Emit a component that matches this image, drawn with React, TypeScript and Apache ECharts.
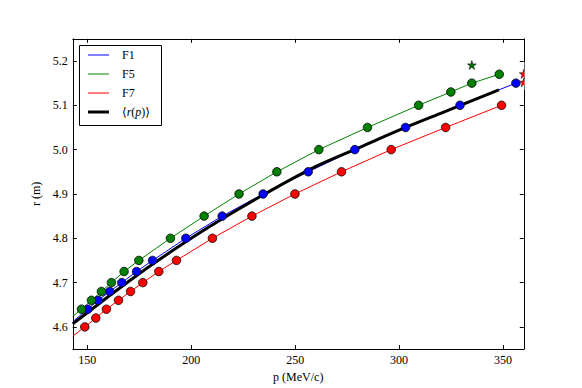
import React, { useEffect, useRef } from "react";
import * as echarts from "echarts";

// F1 (blue)
const F1_P = [150.2, 155.2, 160.8, 166.6, 173.7, 181.4, 197.4, 214.9, 234.6, 256.3, 278.7, 303.1, 329.3, 356.2];
const F1_R = [4.64, 4.66, 4.68, 4.70, 4.725, 4.75, 4.80, 4.85, 4.90, 4.95, 5.00, 5.05, 5.10, 5.15];
const F1_START: [number, number] = [143, 4.612];

// F5 (green)
const F5_P = [147.2, 152.0, 156.8, 161.6, 167.7, 174.8, 190.0, 206.2, 223.0, 241.2, 261.4, 284.8, 309.4, 324.9, 335.0, 348.2];
const F5_R = [4.64, 4.66, 4.68, 4.70, 4.725, 4.75, 4.80, 4.85, 4.90, 4.95, 5.00, 5.05, 5.10, 5.13, 5.15, 5.17];
const F5_START: [number, number] = [143, 4.624];

// F7 (red)
const F7_P = [148.8, 154.1, 159.2, 165.0, 170.8, 176.7, 184.4, 192.9, 210.2, 229.2, 249.9, 272.3, 296.2, 322.4, 349.3];
const F7_R = [4.60, 4.62, 4.64, 4.66, 4.68, 4.70, 4.725, 4.75, 4.80, 4.85, 4.90, 4.95, 5.00, 5.05, 5.10];
const F7_START: [number, number] = [143, 4.579];

// <r(p)> mean curve (black)
const MEAN_P = [143, 150, 160, 170, 180, 200, 220, 240, 260, 280, 300, 320, 348];
const MEAN_R = [4.607, 4.632, 4.668, 4.703, 4.737, 4.800, 4.858, 4.912, 4.962, 5.003, 5.044, 5.082, 5.135];

// star markers
const STAR_GREEN: [number, number][] = [[335.0, 5.191]];
const STAR_RED: [number, number][] = [[360, 5.171], [360, 5.152]];

const X_TICKS = [150, 200, 250, 300, 350];
const Y_TICKS = [4.6, 4.7, 4.8, 4.9, 5.0, 5.1, 5.2];

const FONT = "'Liberation Serif', 'DejaVu Serif', serif";
const STAR = "path://M0,-1L0.2245,-0.309L0.951,-0.309L0.363,0.118L0.588,0.809L0,0.382L-0.588,0.809L-0.363,0.118L-0.951,-0.309L-0.2245,-0.309Z";

const zip = (p: number[], r: number[]) => p.map((v, i) => [v, r[i]]);

export default function App() {
  const ref = useRef<HTMLDivElement>(null);
  useEffect(() => {
    if (!ref.current) return;
    const chart = echarts.init(ref.current, null, { renderer: "svg" });
    const axisCommon = {
      axisLine: { show: true, onZero: false, lineStyle: { color: "#000", width: 1 } },
      splitLine: { show: false },
    };
    const option: any = {
      animation: false,
      backgroundColor: "#fff",
      grid: { left: 72.75, right: 58.2, top: 38.8, bottom: 38.8, containLabel: false },
      xAxis: [
        {
          ...axisCommon,
          type: "value",
          position: "bottom",
          min: 143,
          max: 360,
          name: "p (MeV/c)",
          nameLocation: "middle",
          nameGap: 20,
          nameTextStyle: { fontFamily: FONT, fontSize: 12, color: "#000" },
          axisTick: { show: true, inside: true, length: 4, customValues: X_TICKS, lineStyle: { color: "#000" } },
          axisLabel: { show: true, customValues: X_TICKS, margin: 5, fontFamily: FONT, fontSize: 12, color: "#000" },
        },
        {
          ...axisCommon,
          type: "value",
          position: "top",
          min: 143,
          max: 360,
          axisTick: { show: true, inside: true, length: 4, customValues: X_TICKS, lineStyle: { color: "#000" } },
          axisLabel: { show: false },
        },
      ],
      yAxis: [
        {
          ...axisCommon,
          type: "value",
          position: "left",
          min: 4.55,
          max: 5.25,
          name: "r (m)",
          nameLocation: "middle",
          nameGap: 27,
          nameTextStyle: { fontFamily: FONT, fontSize: 12, color: "#000" },
          axisTick: { show: true, inside: true, length: 4, customValues: Y_TICKS, lineStyle: { color: "#000" } },
          axisLabel: {
            show: true,
            customValues: Y_TICKS,
            margin: 5,
            fontFamily: FONT,
            fontSize: 12,
            color: "#000",
            formatter: (v: number) => v.toFixed(1),
          },
        },
        {
          ...axisCommon,
          type: "value",
          position: "right",
          min: 4.55,
          max: 5.25,
          axisTick: { show: true, inside: true, length: 4, customValues: Y_TICKS, lineStyle: { color: "#000" } },
          axisLabel: { show: false },
        },
      ],
      series: [
        {
          name: "F1 line", type: "line", symbol: "none", z: 2,
          data: [F1_START, ...zip(F1_P, F1_R)],
          lineStyle: { color: "#0000ff", width: 1 },
        },
        {
          name: "F5 line", type: "line", symbol: "none", z: 2,
          data: [F5_START, ...zip(F5_P, F5_R)],
          lineStyle: { color: "#008000", width: 1 },
        },
        {
          name: "F7 line", type: "line", symbol: "none", z: 2,
          data: [F7_START, ...zip(F7_P, F7_R)],
          lineStyle: { color: "#ff0000", width: 1 },
        },
        {
          name: "mean", type: "line", symbol: "none", z: 3, smooth: 0.3,
          data: zip(MEAN_P, MEAN_R),
          lineStyle: { color: "#000", width: 3 },
        },
        {
          name: "F1", type: "scatter", z: 4, symbolSize: 8.5,
          data: zip(F1_P, F1_R),
          itemStyle: { color: "#0000ff", borderColor: "#000", borderWidth: 0.8, opacity: 1 },
        },
        {
          name: "F5", type: "scatter", z: 4, symbolSize: 8.5,
          data: zip(F5_P, F5_R),
          itemStyle: { color: "#008000", borderColor: "#000", borderWidth: 0.8, opacity: 1 },
        },
        {
          name: "F7", type: "scatter", z: 4, symbolSize: 8.5,
          data: zip(F7_P, F7_R),
          itemStyle: { color: "#ff0000", borderColor: "#000", borderWidth: 0.8, opacity: 1 },
        },
        {
          name: "star g", type: "scatter", z: 4, symbol: STAR, symbolSize: 9,
          data: STAR_GREEN,
          itemStyle: { color: "#007000", borderColor: "#000", borderWidth: 0.5, opacity: 1 },
        },
        {
          name: "star r", type: "scatter", z: 4, symbol: STAR, symbolSize: 9, clip: false,
          data: STAR_RED,
          itemStyle: { color: "#ff0000", borderColor: "#000", borderWidth: 0.5, opacity: 1 },
        },
      ],
      graphic: [
        // hide the part of the edge stars outside the axes
        { type: "rect", z: 50, shape: { x: 524.6, y: 62, width: 14, height: 28 }, style: { fill: "#fff" } },
        // legend box
        { type: "rect", z: 60, shape: { x: 79.5, y: 45.5, width: 82, height: 80 }, style: { fill: "#fff", stroke: "#000", lineWidth: 1 } },
        { type: "line", z: 61, shape: { x1: 88, y1: 55, x2: 109, y2: 55 }, style: { stroke: "#0000ff", lineWidth: 1 } },
        { type: "line", z: 61, shape: { x1: 88, y1: 74, x2: 109, y2: 74 }, style: { stroke: "#008000", lineWidth: 1 } },
        { type: "line", z: 61, shape: { x1: 88, y1: 93, x2: 109, y2: 93 }, style: { stroke: "#ff0000", lineWidth: 1 } },
        { type: "line", z: 61, shape: { x1: 88, y1: 112, x2: 109, y2: 112 }, style: { stroke: "#000", lineWidth: 3 } },
        { type: "text", z: 61, x: 122, y: 55, style: { text: "F1", font: `12px ${FONT}`, fill: "#000", verticalAlign: "middle" } },
        { type: "text", z: 61, x: 122, y: 74, style: { text: "F5", font: `12px ${FONT}`, fill: "#000", verticalAlign: "middle" } },
        { type: "text", z: 61, x: 122, y: 93, style: { text: "F7", font: `12px ${FONT}`, fill: "#000", verticalAlign: "middle" } },
        {
          type: "text", z: 61, x: 122, y: 112,
          style: {
            text: "⟨{i|r}({i|p})⟩",
            font: `12px ${FONT}`,
            fill: "#000",
            verticalAlign: "middle",
            rich: { i: { fontStyle: "italic", fontFamily: FONT, fontSize: 12, fill: "#000" } },
          },
        },
      ],
    };
    chart.setOption(option);
    return () => chart.dispose();
  }, []);
  return <div ref={ref} style={{ position: "fixed", left: 0, top: 0, width: 582, height: 388 }} />;
}
